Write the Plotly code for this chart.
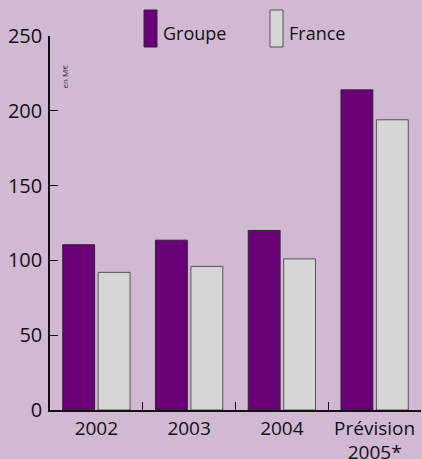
import plotly.graph_objects as go

categories = ["2002", "2003", "2004", "Prévision<br>2005*"]
groupe = [110.5, 113.5, 120, 214]
france = [92, 96, 101, 194]
series_names = ["Groupe", "France"]
y_ticks = [0, 50, 100, 150, 200, 250]

BG = "#d1b9d4"
PURPLE = "#6a0078"
GREY = "#d6d6d6"
FONT = "Open Sans"

fig = go.Figure()
fig.add_trace(go.Bar(x=categories, y=groupe, name=series_names[0],
                     marker=dict(color=PURPLE, line=dict(color="#2a2a2a", width=1))))
fig.add_trace(go.Bar(x=categories, y=france, name=series_names[1],
                     marker=dict(color=GREY, line=dict(color="#555555", width=1))))

fig.update_layout(
    width=422, height=459,
    paper_bgcolor=BG, plot_bgcolor=BG,
    margin=dict(l=50, r=1, t=36, b=49),
    barmode="group", bargap=0.236, bargroupgap=0.1,
    showlegend=False,
    font=dict(family=FONT, size=19, color="#111111"),
    xaxis=dict(type="category", showline=True, linecolor="#111111", linewidth=1.5,
               ticks="inside", tickson="boundaries", ticklen=8, tickcolor="#111111",
               showgrid=False, tickfont=dict(size=19), zeroline=False,
               ticklabelstandoff=0, automargin=False),
    yaxis=dict(range=[0, 250], tickvals=y_ticks, showline=True, linecolor="#111111",
               linewidth=1.5, ticks="inside", ticklen=8, tickcolor="#111111",
               showgrid=False, zeroline=False, tickfont=dict(size=20),
               ticklabelstandoff=2, automargin=False),
)

# legend drawn as tall swatches
legend_items = [(series_names[0], PURPLE, "#2a2a2a", 144), (series_names[1], GREY, "#555555", 270)]
for name, col, lc, x0 in legend_items:
    fig.add_shape(type="rect", xref="paper", yref="paper",
                  x0=(x0 - 50) / 371, x1=(x0 + 13 - 50) / 371,
                  y0=(410 - 47) / 374, y1=(410 - 10) / 374,
                  fillcolor=col, line=dict(color=lc, width=1))
    fig.add_annotation(text=name, xref="paper", yref="paper",
                       x=(x0 + 17 - 50) / 371, y=(410 - 33) / 374,
                       xanchor="left", yanchor="middle", showarrow=False,
                       font=dict(size=18, family=FONT, color="#111111"))

fig.add_annotation(text="en M€", xref="paper", yref="paper",
                   x=(57 - 50) / 371, y=(410 - 63) / 374, textangle=-90,
                   showarrow=False, font=dict(size=8, family=FONT, color="#333333"))

fig.write_html("out.html", config={"displayModeBar": False},
               post_script="document.body.style.margin='0';")
